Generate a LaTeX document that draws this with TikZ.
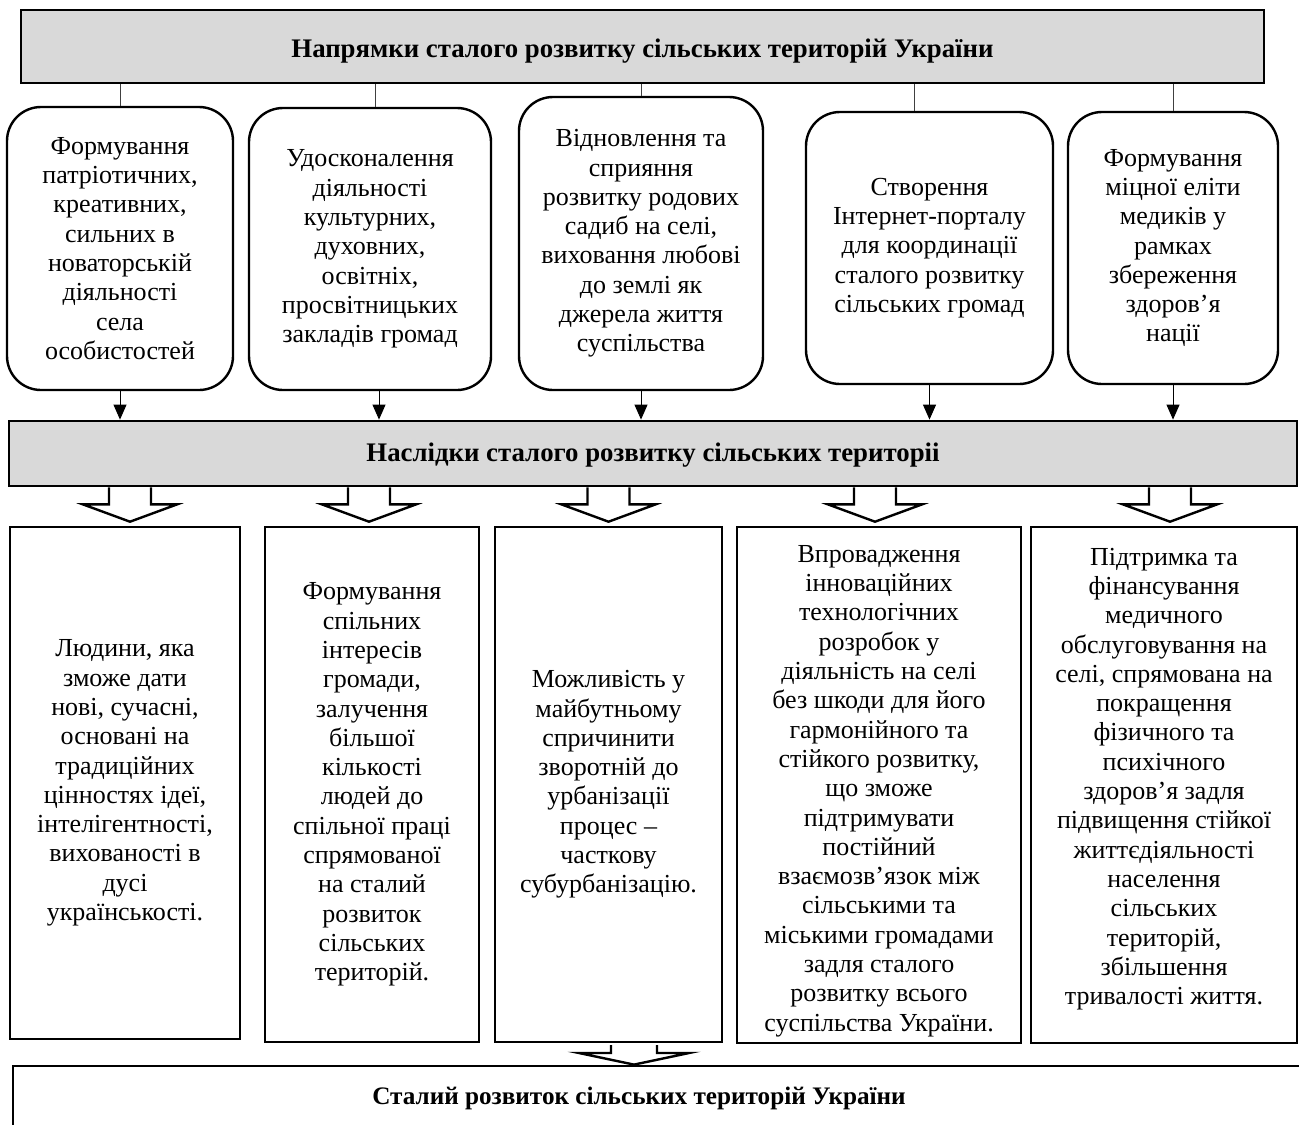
\documentclass[tikz,border=0pt]{standalone}
\usepackage{fontspec}
\setmainfont{Liberation Serif}
\usetikzlibrary{calc,arrows.meta}
\definecolor{barfill}{HTML}{D9D9D9}
\tikzset{
 bar/.style={draw=black, line width=1.4pt, fill=barfill, inner sep=0pt, font=\fontsize{13.4}{16}\selectfont\bfseries},
 dirbox/.style={draw=black, line width=1.2pt, rounded corners=17pt, align=center, inner sep=0pt, font=\fontsize{13}{14.65}\selectfont},
 resbox/.style={draw=black, line width=1.3pt, align=center, inner sep=0pt, font=\fontsize{13}{14.65}\selectfont},
 boxtext/.style={align=center, inner sep=0pt, font=\fontsize{13}{14.65}\selectfont},
 headtext/.style={inner sep=0pt, font=\fontsize{12.6}{15}\selectfont\bfseries},
 link/.style={draw=black!75, line width=0.5pt},
 flow/.style={draw=black, line width=0.5pt, -{Triangle[length=7.5pt,width=6.5pt]}},
 hollow/.style={draw=black, line width=1.2pt, line join=miter},
}
\begin{document}
\begin{tikzpicture}[x=0.5pt,y=-0.5pt]
\useasboundingbox (0,0) rectangle (1299,1124);
\fill[white] (0,0) rectangle (1299,1124);

% top bar
\node[bar, minimum width=621.5pt, minimum height=36.5pt] (top) at (642.5,46.5)
  {\raisebox{-2.5pt}[\height][\depth]{Напрямки сталого розвитку сільських територій України}};

% row 1
\node[dirbox, minimum width=113pt, minimum height=141.5pt] (r1a) at (120,248.5)
  {Формування\\патріотичних,\\креативних,\\сильних в\\новаторській\\діяльності\\села\\особистостей};
\node[dirbox, minimum width=121pt, minimum height=141pt] (r1b) at (370,249)
  {Удосконалення\\діяльності\\культурних,\\духовних,\\освітніх,\\просвітницьких\\закладів громад};
\node[dirbox, minimum width=122pt, minimum height=146.5pt] (r1c) at (641,243.5)
  {Відновлення та\\сприяння\\розвитку родових\\садиб на селі,\\виховання любові\\до землі як\\джерела життя\\суспільства};
\node[dirbox, minimum width=123.5pt, minimum height=136pt] (r1d) at (929.5,248)
  {Створення\\Інтернет-порталу\\для координації\\сталого розвитку\\сільських громад};
\node[dirbox, minimum width=105pt, minimum height=136pt] (r1e) at (1173,248)
  {Формування\\міцної еліти\\медиків у\\рамках\\збереження\\здоров’я\\нації};

% second bar
\node[bar, minimum width=644pt, minimum height=32.5pt] (mid) at (653,453.5)
  {\raisebox{-1pt}[\height][\depth]{Наслідки сталого розвитку сільських територіі}};

% row 2
\node[resbox, minimum width=115pt, minimum height=256pt] (r2a) at (125,783)
  {Людини, яка\\зможе дати\\нові, сучасні,\\основані на\\традиційних\\цінностях ідеї,\\інтелігентності,\\вихованості в\\дусі\\українськості.};
\node[resbox, minimum width=107pt, minimum height=257.5pt] (r2b) at (372,784.5)
  {Формування\\спільних\\інтересів\\громади,\\залучення\\більшої\\кількості\\людей до\\спільної праці\\спрямованої\\на сталий\\розвиток\\сільських\\територій.};
\node[resbox, minimum width=113.5pt, minimum height=257.5pt] (r2c) at (608.5,784.5)
  {Можливість у\\майбутньому\\спричинити\\зворотній до\\урбанізації\\процес –\\часткову\\субурбанізацію.};
\node[resbox, minimum width=142pt, minimum height=258pt] (r2d) at (879,785) {};
\node[boxtext] (r2dt) at (879,791)
  {Впровадження\\інноваційних\\технологічних\\розробок у\\діяльність на селі\\без шкоди для його\\гармонійного та\\стійкого розвитку,\\що зможе\\підтримувати\\постійний\\взаємозв’язок між\\сільськими та\\міськими громадами\\задля сталого\\розвитку всього\\суспільства України.};
\node[resbox, minimum width=133pt, minimum height=258pt] (r2e) at (1164,785) {};
\node[boxtext] (r2et) at (1164,779)
  {Підтримка та\\фінансування\\медичного\\обслуговування на\\селі, спрямована на\\покращення\\фізичного та\\психічного\\здоров’я задля\\підвищення стійкої\\життєдіяльності\\населення\\сільських\\територій,\\збільшення\\тривалості життя.};

% bottom box
\node[draw=black, line width=1.4pt, minimum width=653.5pt, minimum height=37pt, inner sep=0pt] (res) at (666.5,1103) {};
\node[headtext] (restext) at (639,1098) {Сталий розвиток сільських територій України};

% links top bar -> row 1
\draw[link] (r1a.north) -- (r1a.north |- top.south);
\draw[link] ($(r1b.north)+(5,0)$) -- ($(r1b.north |- top.south)+(5,0)$);
\draw[link] (r1c.north) -- (r1c.north |- top.south);
\draw[link] ($(r1d.north)+(-15,0)$) -- ($(r1d.north |- top.south)+(-15,0)$);
\draw[link] (r1e.north) -- (r1e.north |- top.south);

% arrows row 1 -> second bar
\draw[flow] (r1a.south) -- (r1a.south |- mid.north);
\draw[flow] ($(r1b.south)+(9,0)$) -- ($(r1b.south |- mid.north)+(9,0)$);
\draw[flow] (r1c.south) -- (r1c.south |- mid.north);
\draw[flow] (r1d.south) -- (r1d.south |- mid.north);
\draw[flow] (r1e.south) -- (r1e.south |- mid.north);

% hollow arrows second bar -> row 2
\foreach \b/\dx in {r2a/5, r2b/-3, r2c/0, r2d/-4, r2e/6}{
  \draw[hollow] ($(mid.south -| \b.north)+(\dx-21,0)$) -- ++(0,17) -- ++(-26,0)
     -- ($(\b.north)+(\dx,-4)$) -- ($(mid.south -| \b.north)+(\dx+47,17)$) -- ++(-26,0) -- ++(0,-17);
}

% hollow arrow row 2 -> result
\coordinate (down) at (634,1045);
\draw[hollow] ($(down)+(-23,0)$) -- ++(0,8) -- ++(-32,0) -- (down |- res.north)
   -- ($(down)+(55,8)$) -- ++(-32,0) -- ++(0,-8);
\end{tikzpicture}
\end{document}
